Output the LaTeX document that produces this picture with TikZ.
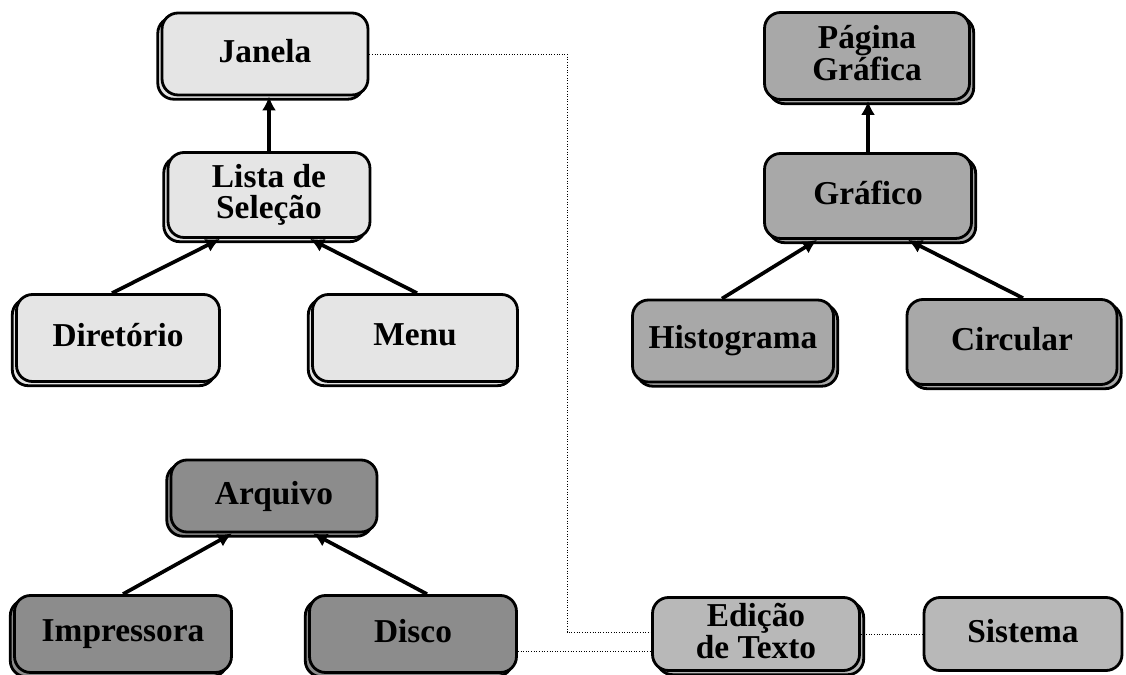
\documentclass[tikz,border=0pt]{standalone}
\usepackage{fontspec}
\setmainfont{Liberation Serif}
\usepackage{tikz}
\usetikzlibrary{arrows.meta,shadows}

\definecolor{clara}{gray}{0.90}
\definecolor{media}{gray}{0.66}
\definecolor{escura}{gray}{0.55}
\definecolor{suave}{gray}{0.72}

\newcommand{\apoio}{\rule[-3.5pt]{0pt}{13.5pt}}

\tikzset{
  caixa/.style={draw, line width=1.6pt, rounded corners=0.32cm, align=center,
    inner sep=1pt, minimum width=4.1cm, minimum height=1.64cm,
    font=\bfseries\fontsize{19}{18}\selectfont,
    execute at begin node={\apoio}, execute at end node={\apoio}},
  esq/.style={caixa, copy shadow={shadow xshift=-2.4pt, shadow yshift=-2.4pt}},
  dir/.style={caixa, copy shadow={shadow xshift=2.4pt, shadow yshift=-2.4pt}},
  seta/.style={line width=2.1pt, -{Latex[length=8pt,width=8pt]}},
  ligacao/.style={line width=0.5pt, densely dotted}
}

\begin{document}
\begin{tikzpicture}[x=0.02cm, y=-0.02cm]
 \useasboundingbox (0,0) rectangle (1126,675);

 \node[esq, fill=clara, minimum width=4.12cm] (janela) at (265,54) {Janela};

 \node[esq, fill=clara, minimum width=4.04cm, minimum height=1.7cm] (lista) at (269,195) {Lista de\\Seleção};

 \node[esq, fill=clara, minimum width=4.06cm, minimum height=1.74cm] (diretorio) at (118,338) {Diretório};

 \node[esq, fill=clara, minimum height=1.74cm] (menu) at (415,338) {Menu};

 \node[esq, fill=escura, minimum width=4.12cm, minimum height=1.44cm] (arquivo) at (274,496) {Arquivo};

 \node[esq, fill=escura, minimum width=4.34cm, minimum height=1.54cm] (impressora) at (123,634) {Impressora};

 \node[esq, fill=escura, minimum width=4.14cm, minimum height=1.54cm] (disco) at (413,634) {Disco};

 \node[dir, fill=media, minimum height=1.74cm] (pagina) at (867,56) {Página\\Gráfica};

 \node[dir, fill=media, minimum width=4.14cm, minimum height=1.7cm] (grafico) at (868,196) {Gráfico};

 \node[dir, fill=media, minimum width=4.02cm] (histograma) at (733,341) {Histograma};

 \node[dir, fill=media, minimum width=4.2cm, minimum height=1.7cm] (circular) at (1012,342) {Circular};

 \node[dir, fill=suave, minimum width=4.14cm, minimum height=1.46cm] (edicao) at (756,634) {Edição\\de Texto};

 \node[caixa, fill=suave, minimum width=3.96cm, minimum height=1.46cm] (sistema) at (1023,634) {Sistema};

 \coordinate (dobra) at (567,54);
 \coordinate (disco-saida) at ([yshift=-0.34cm]disco.east);

 \draw[seta] (lista.north) -- (lista.north |- janela.south);
 \draw[seta] ([xshift=-0.12cm]diretorio.north) -- ([xshift=-0.98cm]lista.south);
 \draw[seta] ([xshift=0.04cm]menu.north) -- ([xshift=0.82cm]lista.south);
 \draw[seta] (impressora.north) -- ([xshift=-0.84cm]arquivo.south);
 \draw[seta] ([xshift=0.28cm]disco.north) -- ([xshift=0.78cm]arquivo.south);
 \draw[seta] (grafico.north) -- (grafico.north |- pagina.south);
 \draw[seta] ([xshift=-0.22cm]histograma.north) -- ([xshift=-1.02cm]grafico.south);
 \draw[seta] ([xshift=0.22cm]circular.north) -- ([xshift=0.8cm]grafico.south);

 \draw[ligacao] (janela.east) -- (dobra) |- ([yshift=0.04cm]edicao.west);
 \draw[ligacao] (disco-saida) -- (disco-saida -| edicao.west);
 \draw[ligacao] (edicao.east) -- (sistema.west);

\end{tikzpicture}
\end{document}
